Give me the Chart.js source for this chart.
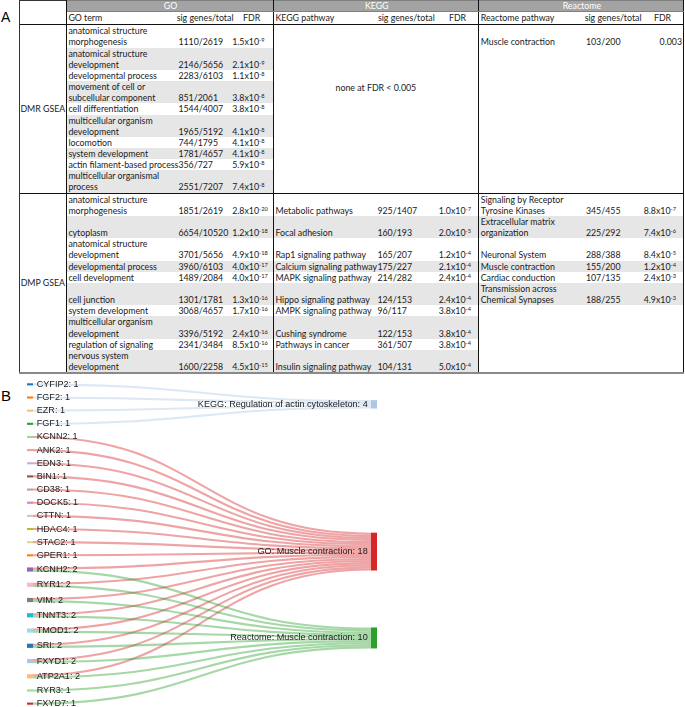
<!DOCTYPE html>
<html>
<head>
<meta charset="utf-8">
<script src="https://cdn.jsdelivr.net/npm/chart.js@4.4.0/dist/chart.umd.min.js"></script>
<style>
body { margin:0; background:#fff; width:685px; height:707px; position:relative; overflow:hidden; }
.lbl { position:absolute; left:1px; font-family:"Liberation Sans", Arial, sans-serif; color:#000; }
#tbl { position:absolute; left:19px; top:0; width:664px; border-collapse:collapse; table-layout:fixed;
       font-family:Lato, sans-serif; font-size:8.8px; line-height:11.15px; color:#1a1a1a; }
#tbl td { padding:0 0 0 1.7px; vertical-align:bottom; white-space:pre; overflow:visible; border:0; }
#tbl sup { font-size:5.7px; line-height:0; vertical-align:3px; }
#tbl tr.h1 td { height:10px; line-height:10px; vertical-align:middle; }
#tbl tr.h2 td { height:12.3px; line-height:12.3px; vertical-align:middle; }
#tbl td.hd { background:#a3a3a3; color:#fff; text-align:center; border-top:1px solid #808080; border-bottom:1px solid #808080; }
#tbl td.c { text-align:center; padding-left:0; }
#tbl td.r { text-align:right; padding-right:1px; }
#tbl td.sec { border-right:1px solid #111; }
#tbl td.grp { border-left:1px solid #333; border-right:1px solid #111; text-align:center; vertical-align:middle; padding-left:0; }
#tbl td.corner { border-top:1px solid #333; }
#tbl tr.top td { border-top:1px solid #111; }
#tbl tr.last td, #tbl td.btm { border-bottom:2px solid #8a8a8a; }
#tbl td.g { background:#e6e6e6; }
#tbl td.none { vertical-align:top; text-align:center; padding-top:57px; padding-left:0; }
#sankey { position:absolute; left:0; top:370px; }
</style>
</head>
<body>
<div class="lbl" style="top:10px;font-size:14px;line-height:14px;">A</div>
<div class="lbl" style="top:388px;font-size:15px;line-height:15px;">B</div>
<table id="tbl"></table>
<canvas id="sankey" width="685" height="337"></canvas>
<script>
// ---- panel A data ----
const dmrGoTerms = ['anatomical structure\nmorphogenesis', 'anatomical structure\ndevelopment', 'developmental process',
  'movement of cell or\nsubcellular component', 'cell differentiation', 'multicellular organism\ndevelopment',
  'locomotion', 'system development', 'actin filament-based process', 'multicellular organismal\nprocess'];
const dmrGoSig = ['1110/2619', '2146/5656', '2283/6103', '851/2061', '1544/4007', '1965/5192', '744/1795', '1781/4657', '356/727', '2551/7207'];
const dmrGoFdr = ['1.5e-9', '2.1e-9', '1.1e-8', '3.8e-8', '3.8e-8', '4.1e-8', '4.1e-8', '4.1e-8', '5.9e-8', '7.4e-8'];

const dmrReactomeTerms = ['Muscle contraction'];
const dmrReactomeSig = ['103/200'];
const dmrReactomeFdr = ['0.003'];

const dmpGoTerms = ['anatomical structure\nmorphogenesis', 'cytoplasm', 'anatomical structure\ndevelopment', 'developmental process',
  'cell development', 'cell junction', 'system development', 'multicellular organism\ndevelopment',
  'regulation of signaling', 'nervous system\ndevelopment'];
const dmpGoSig = ['1851/2619', '6654/10520', '3701/5656', '3960/6103', '1489/2084', '1301/1781', '3068/4657', '3396/5192', '2341/3484', '1600/2258'];
const dmpGoFdr = ['2.8e-20', '1.2e-18', '4.9e-18', '4.0e-17', '4.0e-17', '1.3e-16', '1.7e-16', '2.4e-16', '8.5e-16', '4.5e-15'];

const dmpKeggTerms = ['Metabolic pathways', 'Focal adhesion', 'Rap1 signaling pathway', 'Calcium signaling pathway', 'MAPK signaling pathway',
  'Hippo signaling pathway', 'AMPK signaling pathway', 'Cushing syndrome', 'Pathways in cancer', 'Insulin signaling pathway'];
const dmpKeggSig = ['925/1407', '160/193', '165/207', '175/227', '214/282', '124/153', '96/117', '122/153', '361/507', '104/131'];
const dmpKeggFdr = ['1.0e-7', '2.0e-5', '1.2e-4', '2.1e-4', '2.4e-4', '2.4e-4', '3.8e-4', '3.8e-4', '3.8e-4', '5.0e-4'];

const dmpReactomeTerms = ['Signaling by Receptor\nTyrosine Kinases', 'Extracellular matrix\norganization', 'Neuronal System',
  'Muscle contraction', 'Cardiac conduction', 'Transmission across\nChemical Synapses'];
const dmpReactomeSig = ['345/455', '225/292', '288/388', '155/200', '107/135', '188/255'];
const dmpReactomeFdr = ['8.8e-7', '7.4e-6', '8.4e-5', '1.2e-4', '2.4e-3', '4.9e-3'];

// ---- panel B data ----
const genes = ['CYFIP2', 'FGF2', 'EZR', 'FGF1', 'KCNN2', 'ANK2', 'EDN3', 'BIN1', 'CD38', 'DOCK5', 'CTTN', 'HDAC4',
  'STAC2', 'GPER1', 'KCNH2', 'RYR1', 'VIM', 'TNNT3', 'TMOD1', 'SRI', 'FXYD1', 'ATP2A1', 'RYR3', 'FXYD7'];
const geneCounts = [1, 1, 1, 1, 1, 1, 1, 1, 1, 1, 1, 1, 1, 1, 2, 2, 2, 2, 2, 2, 2, 2, 1, 1];
const pathways = ['KEGG: Regulation of actin cytoskeleton', 'GO: Muscle contraction', 'Reactome: Muscle contraction'];
const pathwayCounts = [4, 18, 10];
const keggGenes = ['CYFIP2', 'FGF2', 'EZR', 'FGF1'];
const goGenes = ['KCNN2', 'ANK2', 'EDN3', 'BIN1', 'CD38', 'DOCK5', 'CTTN', 'HDAC4', 'STAC2', 'GPER1',
  'KCNH2', 'RYR1', 'VIM', 'TNNT3', 'TMOD1', 'SRI', 'FXYD1', 'ATP2A1'];
const reactomeGenes = ['KCNH2', 'RYR1', 'VIM', 'TNNT3', 'TMOD1', 'SRI', 'FXYD1', 'ATP2A1', 'RYR3', 'FXYD7'];

// styles
const geneColors = ['#1f77b4', '#ff7f0e', '#ffbb78', '#2ca02c', '#98df8a', '#ff9896', '#c5b0d5', '#8c564b', '#c49c94', '#e377c2',
  '#c7c7c7', '#bcbd22', '#dbdb8d', '#ff7f0e', '#9467bd', '#f7b6d2', '#7f7f7f', '#17becf', '#9edae5', '#1f77b4',
  '#aec7e8', '#ffbb78', '#98df8a', '#d62728'];
const pathwayColors = ['#aec7e8', '#d62728', '#2ca02c'];

// ---- build table ----
const colW = [46.7, 110.5, 53.8, 42.7, 102.5, 61.3, 41.5, 105.7, 57.8, 41.5];

function fdrHtml(s) {
  const k = s.indexOf('e');
  return k < 0 ? s : s.slice(0, k) + 'x10<sup>' + s.slice(k + 1) + '</sup>';
}
function triple(term, sig, fdr, grey, fdrCls) {
  const g = grey ? ' g' : '';
  return `<td class="${g}">${term}</td><td class="${g}">${sig}</td><td class="${g} sec ${fdrCls || ''}">${fdrHtml(fdr)}</td>`;
}

let html = '<colgroup>' + colW.map(w => `<col style="width:${w}px">`).join('') + '</colgroup>';
html += '<tr class="h1"><td class="grp corner" rowspan="2"></td><td colspan="3" class="hd sec">GO</td>' +
  '<td colspan="3" class="hd sec">KEGG</td><td colspan="3" class="hd sec">Reactome</td></tr>';
html += '<tr class="h2"><td>GO term</td><td class="c">sig genes/total</td><td class="c sec">FDR</td>' +
  '<td>KEGG pathway</td><td class="c">sig genes/total</td><td class="c sec">FDR</td>' +
  '<td>Reactome pathway</td><td class="c">sig genes/total</td><td class="c sec">FDR</td></tr>';

dmrGoTerms.forEach((t, i) => {
  let row = `<tr class="${i === 0 ? 'top' : ''}">`;
  if (i === 0) row += `<td class="grp" rowspan="${dmrGoTerms.length}">DMR GSEA</td>`;
  row += triple(t, dmrGoSig[i], dmrGoFdr[i], i % 2 === 1);
  if (i === 0) row += `<td class="none sec" colspan="3" rowspan="${dmrGoTerms.length}">none at FDR &lt; 0.005</td>`;
  if (i < dmrReactomeTerms.length) row += triple(dmrReactomeTerms[i], dmrReactomeSig[i], dmrReactomeFdr[i], false, 'r');
  else if (i === dmrReactomeTerms.length) row += `<td class="sec" colspan="3" rowspan="${dmrGoTerms.length - i}"></td>`;
  html += row + '</tr>';
});

dmpGoTerms.forEach((t, i) => {
  const last = i === dmpGoTerms.length - 1;
  let row = `<tr class="${i === 0 ? 'top' : ''} ${last ? 'last' : ''}">`;
  if (i === 0) row += `<td class="grp btm" rowspan="${dmpGoTerms.length}">DMP GSEA</td>`;
  row += triple(t, dmpGoSig[i], dmpGoFdr[i], i % 2 === 1);
  row += triple(dmpKeggTerms[i], dmpKeggSig[i], dmpKeggFdr[i], i % 2 === 1);
  if (i < dmpReactomeTerms.length) row += triple(dmpReactomeTerms[i], dmpReactomeSig[i], dmpReactomeFdr[i], i % 2 === 1);
  else if (i === dmpReactomeTerms.length) row += `<td class="sec btm" colspan="3" rowspan="${dmpGoTerms.length - i}"></td>`;
  html += row + '</tr>';
});
document.getElementById('tbl').innerHTML = html;

// ---- sankey layout (in value units on the y scale, pixels on the x scale) ----
const NODE_PAD = 5.26;
const geneTop = [];
let acc = 0;
geneCounts.forEach(c => { geneTop.push(acc); acc += c + NODE_PAD; });
const yMax = acc - NODE_PAD;
const pathwayTop = [8, 71.1, 116.2];
const X_LEFT = 27, X_RIGHT = 371, NODE_W = 6;

const targetLists = [keggGenes, goGenes, reactomeGenes];
const links = [];
const srcUsed = geneCounts.map(() => 0);
targetLists.forEach((list, t) => {
  list.forEach((g, k) => {
    const s = genes.indexOf(g);
    links.push({ s: s, t: t, sy: geneTop[s] + srcUsed[s] + 0.5, ty: pathwayTop[t] + k + 0.5 });
    srcUsed[s] += 1;
  });
});

function rgba(hex, a) {
  const n = parseInt(hex.slice(1), 16);
  return `rgba(${n >> 16},${(n >> 8) & 255},${n & 255},${a})`;
}

const sankeyPlugin = {
  id: 'sankey',
  afterDraw(chart) {
    const ctx = chart.ctx, x = chart.scales.x, y = chart.scales.y;
    const unit = Math.abs(y.getPixelForValue(1) - y.getPixelForValue(0));
    ctx.save();
    // links
    const x0 = x.getPixelForValue(X_LEFT + NODE_W), x1 = x.getPixelForValue(X_RIGHT), xm = (x0 + x1) / 2;
    ctx.lineWidth = unit;
    links.forEach(l => {
      const y0 = y.getPixelForValue(l.sy), y1 = y.getPixelForValue(l.ty);
      ctx.strokeStyle = rgba(pathwayColors[l.t], 0.42);
      ctx.beginPath();
      ctx.moveTo(x0, y0);
      ctx.bezierCurveTo(xm, y0, xm, y1, x1, y1);
      ctx.stroke();
    });
    // nodes
    genes.forEach((g, i) => {
      const top = y.getPixelForValue(geneTop[i]);
      ctx.fillStyle = geneColors[i];
      ctx.fillRect(x.getPixelForValue(X_LEFT), top, NODE_W, geneCounts[i] * unit);
    });
    pathways.forEach((p, i) => {
      const top = y.getPixelForValue(pathwayTop[i]);
      ctx.fillStyle = pathwayColors[i];
      ctx.fillRect(x.getPixelForValue(X_RIGHT), top, NODE_W, pathwayCounts[i] * unit);
    });
    // labels
    ctx.font = '9.1px "Liberation Sans", Arial, sans-serif';
    ctx.fillStyle = '#222';
    ctx.textBaseline = 'middle';
    ctx.textAlign = 'left';
    genes.forEach((g, i) => {
      ctx.fillText(g + ': ' + geneCounts[i], x.getPixelForValue(X_LEFT + NODE_W + 3.7), y.getPixelForValue(geneTop[i] + geneCounts[i] / 2));
    });
    ctx.textAlign = 'right';
    pathways.forEach((p, i) => {
      ctx.fillText(p + ': ' + pathwayCounts[i], x.getPixelForValue(X_RIGHT - 3.3), y.getPixelForValue(pathwayTop[i] + pathwayCounts[i] / 2));
    });
    ctx.restore();
  }
};

new Chart(document.getElementById('sankey').getContext('2d'), {
  type: 'scatter',
  data: { datasets: [] },
  options: {
    responsive: false,
    animation: false,
    devicePixelRatio: 1,
    layout: { padding: { top: 13.3, bottom: 2.3, left: 0, right: 0 } },
    scales: {
      x: { type: 'linear', min: 0, max: 685, display: false },
      y: { type: 'linear', min: 0, max: yMax, reverse: true, display: false }
    },
    plugins: { legend: { display: false }, tooltip: { enabled: false } }
  },
  plugins: [sankeyPlugin]
});
</script>
</body>
</html>
